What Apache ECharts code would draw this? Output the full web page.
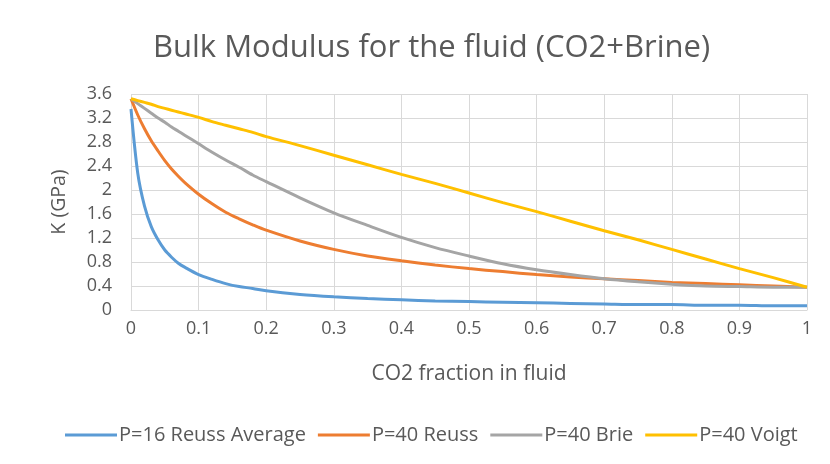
<!DOCTYPE html>
<html>
<head>
<meta charset="utf-8">
<script src="https://cdn.jsdelivr.net/npm/echarts@6/dist/echarts.min.js"></script>
<style>
  html, body { margin: 0; padding: 0; background: #fff; }
  #main { width: 830px; height: 464px; }
</style>
</head>
<body>
<div id="main"></div>
<script>
// CO2 fraction (x values)
var fraction = [0, 0.01, 0.02, 0.03, 0.04, 0.05, 0.06, 0.07, 0.08, 0.1, 0.12, 0.14, 0.16, 0.18, 0.2,
  0.25, 0.3, 0.35, 0.4, 0.45, 0.5, 0.55, 0.6, 0.65, 0.7, 0.75, 0.8, 0.85, 0.9, 0.95, 1];

// K (GPa)
var reuss16 = [3.35, 2.28, 1.73, 1.39, 1.17, 1.00, 0.88, 0.78, 0.71, 0.59, 0.51, 0.44, 0.39, 0.36, 0.32,
  0.26, 0.22, 0.19, 0.17, 0.15, 0.14, 0.13, 0.12, 0.11, 0.10, 0.09, 0.09, 0.08, 0.08, 0.07, 0.07];
var reuss40 = [3.52, 3.25, 3.02, 2.82, 2.65, 2.49, 2.35, 2.23, 2.12, 1.93, 1.77, 1.63, 1.52, 1.42, 1.33,
  1.15, 1.01, 0.90, 0.82, 0.75, 0.69, 0.64, 0.59, 0.55, 0.52, 0.49, 0.46, 0.44, 0.42, 0.40, 0.38];
var brie40 = [3.52, 3.44, 3.36, 3.28, 3.20, 3.13, 3.05, 2.98, 2.91, 2.77, 2.63, 2.50, 2.38, 2.25, 2.14,
  1.87, 1.62, 1.41, 1.21, 1.04, 0.90, 0.77, 0.67, 0.59, 0.52, 0.47, 0.43, 0.40, 0.39, 0.38, 0.38];
var voigt40 = [3.52, 3.49, 3.46, 3.43, 3.39, 3.36, 3.33, 3.30, 3.27, 3.21, 3.14, 3.08, 3.02, 2.96, 2.89,
  2.74, 2.58, 2.42, 2.26, 2.11, 1.95, 1.79, 1.64, 1.48, 1.32, 1.17, 1.01, 0.85, 0.69, 0.54, 0.38];

var seriesNames = ['P=16 Reuss Average', 'P=40 Reuss', 'P=40 Brie', 'P=40 Voigt'];
var seriesColors = ['#5b9bd5', '#ed7d31', '#a5a5a5', '#ffc000'];
var seriesValues = [reuss16, reuss40, brie40, voigt40];

function pairs(ys) {
  return fraction.map(function (x, i) { return [x, ys[i]]; });
}

var font = '"Open Sans", "Noto Sans", sans-serif';
var textColor = '#595959';

var chart = echarts.init(document.getElementById('main'), null, { renderer: 'canvas' });
chart.setOption({
  animation: false,
  title: {
    text: 'Bulk Modulus for the fluid (CO2+Brine)',
    left: 148,
    top: 28,
    textStyle: { fontFamily: font, fontSize: 31, fontWeight: 'normal', color: textColor }
  },
  legend: {
    top: 420,
    left: 60,
    itemWidth: 52,
    itemHeight: 3,
    itemGap: 12,
    icon: 'rect',
    data: seriesNames,
    textStyle: { fontFamily: font, fontSize: 20, color: textColor, padding: [0, 0, 0, -3] }
  },
  grid: { left: 131, right: 23, top: 94, bottom: 154 },
  xAxis: {
    type: 'value',
    min: 0,
    max: 1,
    interval: 0.1,
    name: 'CO2 fraction in fluid',
    nameLocation: 'middle',
    nameGap: 54,
    nameTextStyle: { fontFamily: font, fontSize: 21, color: textColor },
    axisLine: { show: true, lineStyle: { color: '#d9d9d9' } },
    axisTick: { show: false },
    axisLabel: { fontFamily: font, fontSize: 18, color: textColor, margin: 10 },
    splitLine: { show: true, lineStyle: { color: '#d9d9d9' } }
  },
  yAxis: {
    type: 'value',
    min: 0,
    max: 3.6,
    interval: 0.4,
    name: 'K (GPa)',
    nameLocation: 'middle',
    nameGap: 62,
    nameTextStyle: { fontFamily: font, fontSize: 19.5, color: textColor },
    axisLine: { show: false },
    axisTick: { show: false },
    axisLabel: { fontFamily: font, fontSize: 18, color: textColor, margin: 19,
      formatter: function (v) { return String(Math.round(v * 10) / 10); } },
    splitLine: { show: true, lineStyle: { color: '#d9d9d9' } }
  },
  series: seriesNames.map(function (name, i) {
    return {
      name: name,
      type: 'line',
      data: pairs(seriesValues[i]),
      smooth: 0.3,
      showSymbol: false,
      symbol: 'none',
      color: seriesColors[i],
      lineStyle: { width: 3, color: seriesColors[i] }
    };
  })
});
</script>
</body>
</html>
